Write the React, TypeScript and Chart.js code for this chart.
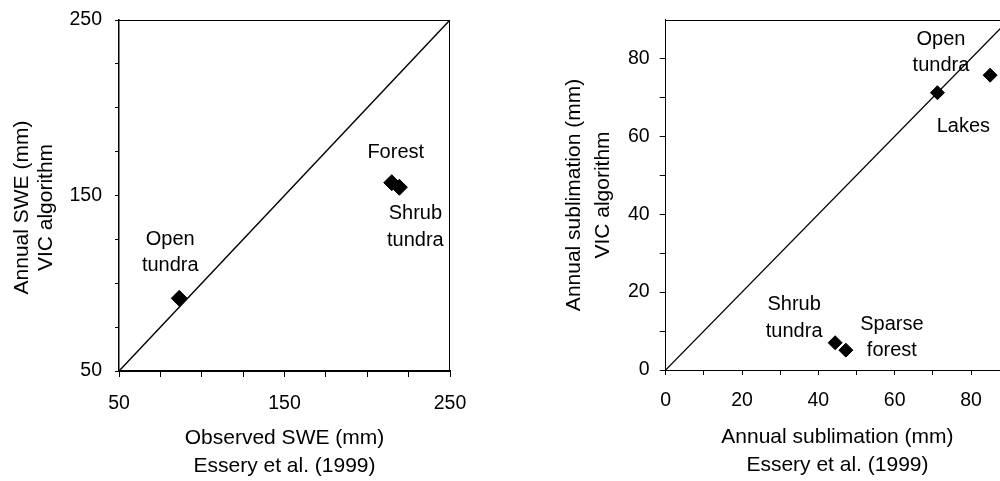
import React, { useEffect, useRef } from 'react';
import { Chart, registerables } from 'chart.js';

Chart.register(...registerables);

const FONT = "'Liberation Sans', Arial, Helvetica, sans-serif";

// Annual snow water equivalent (mm): observed vs. VIC algorithm
const sweClasses = ['Open tundra', 'Forest', 'Shrub tundra'];
const sweObserved = [86.4, 214.8, 219.4];
const sweVic = [91.4, 157.3, 154.7];
const sweRange = [50, 250];
const sweLabelledTicks = [50, 150, 250];

// Annual sublimation (mm): Essery et al. (1999) vs. VIC algorithm
const sublClasses = ['Open tundra', 'Lakes', 'Shrub tundra', 'Sparse forest'];
const sublObserved = [71.2, 85.0, 44.4, 47.2];
const sublVic = [71.2, 75.7, 7.0, 5.1];
const sublRange = [0, 90];
const sublLabelledTicks = [0, 20, 40, 60, 80];

const sweXTitle = ['Observed SWE (mm)', 'Essery et al. (1999)'];
const sweYTitle = ['Annual SWE (mm)', 'VIC algorithm'];
const sublXTitle = ['Annual sublimation (mm)', 'Essery et al. (1999)'];
const sublYTitle = ['Annual sublimation (mm)', 'VIC algorithm'];

type Layout = {
  width: number;
  yWidth: number;
  xHeight: number;
  padTop: number;
  padRight: number;
  yTickLen: number;
  yTickPad: number;
  xTickLen: number;
  xTickPad: number;
  step: number;
  pointRadius: number;
  lineWidth: number;
  xBorder: number;
  yBorder: number;
  yTitleX: number[];
  yTitleY: number;
  xTitleY: number[];
  // label offsets (px) from each point: [dx, dy of first line, line gap]
  labelOffsets: number[][];
  hideTopYTick: boolean;
};

const sweLayout: Layout = {
  width: 500,
  yWidth: 119,
  xHeight: 110,
  padTop: 20,
  padRight: 50,
  yTickLen: 4,
  yTickPad: 13,
  xTickLen: 6,
  xTickPad: 15,
  step: 25,
  pointRadius: 8,
  lineWidth: 1.5,
  xBorder: 2,
  yBorder: 1.5,
  yTitleX: [22, 46.5],
  yTitleY: 207.5,
  xTitleY: [438, 466],
  labelOffsets: [
    [-9, -59, 26],
    [4, -30, 26],
    [16, 26.5, 26.5],
  ],
  hideTopYTick: false,
};

const sublLayout: Layout = {
  width: 560,
  yWidth: 165.7,
  xHeight: 111,
  padTop: 19.5,
  padRight: 50.8,
  yTickLen: 6,
  yTickPad: 10,
  xTickLen: 5,
  xTickPad: 13.6,
  step: 10,
  pointRadius: 7,
  lineWidth: 1.2,
  xBorder: 1,
  yBorder: 1,
  yTitleX: [74, 103],
  yTitleY: 195,
  xTitleY: [437, 465],
  labelOffsets: [
    [3.5, -53.7, 26],
    [-26.7, 50.8, 26],
    [-41, -38, 26.7],
    [46, -26, 26.6],
  ],
  hideTopYTick: true,
};

type PanelText = {
  names: string[];
  xs: number[];
  ys: number[];
  xTitle: string[];
  yTitle: string[];
  layout: Layout;
};

// Closes the plot frame and writes axis titles and class labels
const panelText = {
  id: 'panelText',
  afterDraw(chart: any, _args: any, opts: PanelText) {
    const { ctx, chartArea: a, scales } = chart;
    const L = opts.layout;
    ctx.save();
    ctx.strokeStyle = '#000';
    ctx.lineWidth = 1;
    ctx.beginPath();
    ctx.moveTo(a.left, Math.round(a.top) + 0.5);
    ctx.lineTo(a.right, Math.round(a.top) + 0.5);
    ctx.moveTo(Math.round(a.right) - 0.5, a.top);
    ctx.lineTo(Math.round(a.right) - 0.5, a.bottom);
    ctx.stroke();

    ctx.fillStyle = '#000';
    ctx.textAlign = 'center';
    ctx.textBaseline = 'middle';

    ctx.font = `21px ${FONT}`;
    const cx = (a.left + a.right) / 2;
    opts.xTitle.forEach((line, i) => ctx.fillText(line, cx, L.xTitleY[i]));
    opts.yTitle.forEach((line, i) => {
      ctx.save();
      ctx.translate(L.yTitleX[i], L.yTitleY);
      ctx.rotate(-Math.PI / 2);
      ctx.fillText(line, 0, 0);
      ctx.restore();
    });

    ctx.font = `20px ${FONT}`;
    opts.names.forEach((name, i) => {
      const [dx, dy, gap] = L.labelOffsets[i];
      const px = scales.x.getPixelForValue(opts.xs[i]);
      const py = scales.y.getPixelForValue(opts.ys[i]);
      name.split(' ').forEach((word, j) => {
        ctx.fillText(word, px + dx, py + dy + j * gap);
      });
    });
    ctx.restore();
  },
};

function buildConfig(
  names: string[],
  xs: number[],
  ys: number[],
  range: number[],
  labelled: number[],
  xTitle: string[],
  yTitle: string[],
  L: Layout
): any {
  const points = xs.map((x, i) => ({ x, y: ys[i] }));
  const oneToOne = [
    { x: range[0], y: range[0] },
    { x: range[1], y: range[1] },
  ];
  const tickFont = { family: FONT, size: 19.5 };
  const axis = (len: number, pad: number, border: number, fit: (s: any) => void, hideTop: boolean) => ({
    type: 'linear',
    min: range[0],
    max: range[1],
    afterFit: (s: any) => {
      fit(s);
      // the plot frame is placed by the fixed axis sizes, not by label overhang
      s.paddingTop = 0;
      s.paddingBottom = 0;
      s.paddingLeft = 0;
      s.paddingRight = 0;
    },
    afterBuildTicks: (s: any) => {
      if (hideTop) s.ticks = s.ticks.filter((t: any) => t.value < range[1]);
    },
    grid: {
      drawOnChartArea: false,
      drawTicks: true,
      tickLength: len,
      color: '#000',
      tickColor: '#000',
      tickWidth: 1,
    },
    border: { display: true, color: '#000', width: border },
    ticks: {
      stepSize: L.step,
      padding: pad,
      color: '#000',
      font: tickFont,
      maxRotation: 0,
      autoSkip: false,
      callback: (v: number) => (labelled.includes(v) ? String(v) : ''),
    },
  });
  return {
    type: 'scatter',
    data: {
      datasets: [
        {
          label: '1:1',
          data: oneToOne,
          showLine: true,
          borderColor: '#000',
          borderWidth: L.lineWidth,
          pointRadius: 0,
          order: 2,
        },
        {
          label: 'classes',
          data: points,
          pointStyle: 'rectRot',
          pointRadius: L.pointRadius,
          pointBackgroundColor: '#000',
          pointBorderColor: '#000',
          pointBorderWidth: 1,
          showLine: false,
          order: 1,
        },
      ],
    },
    options: {
      responsive: false,
      maintainAspectRatio: false,
      animation: false,
      layout: { padding: { top: L.padTop, right: L.padRight, left: 0, bottom: 0 } },
      plugins: {
        legend: { display: false },
        tooltip: { enabled: false },
        panelText: { names, xs, ys, xTitle, yTitle, layout: L },
      },
      scales: {
        x: axis(L.xTickLen, L.xTickPad, L.xBorder, (s: any) => { s.height = L.xHeight; }, false),
        y: axis(L.yTickLen, L.yTickPad, L.yBorder, (s: any) => { s.width = L.yWidth; }, L.hideTopYTick),
      },
    },
    plugins: [panelText],
  };
}

export default function App() {
  const sweRef = useRef<HTMLCanvasElement>(null);
  const sublRef = useRef<HTMLCanvasElement>(null);

  useEffect(() => {
    const charts: Chart[] = [];
    if (sweRef.current) {
      charts.push(
        new Chart(
          sweRef.current,
          buildConfig(sweClasses, sweObserved, sweVic, sweRange, sweLabelledTicks, sweXTitle, sweYTitle, sweLayout)
        )
      );
    }
    if (sublRef.current) {
      charts.push(
        new Chart(
          sublRef.current,
          buildConfig(sublClasses, sublObserved, sublVic, sublRange, sublLabelledTicks, sublXTitle, sublYTitle, sublLayout)
        )
      );
    }
    return () => charts.forEach((c) => c.destroy());
  }, []);

  return (
    <div
      style={{
        position: 'fixed',
        left: 0,
        top: 0,
        width: 1000,
        height: 481,
        overflow: 'hidden',
        background: '#fff',
      }}
    >
      <canvas
        ref={sweRef}
        width={sweLayout.width}
        height={481}
        style={{ position: 'absolute', left: 0, top: 0 }}
      />
      <canvas
        ref={sublRef}
        width={sublLayout.width}
        height={481}
        style={{ position: 'absolute', left: 500, top: 0 }}
      />
    </div>
  );
}
